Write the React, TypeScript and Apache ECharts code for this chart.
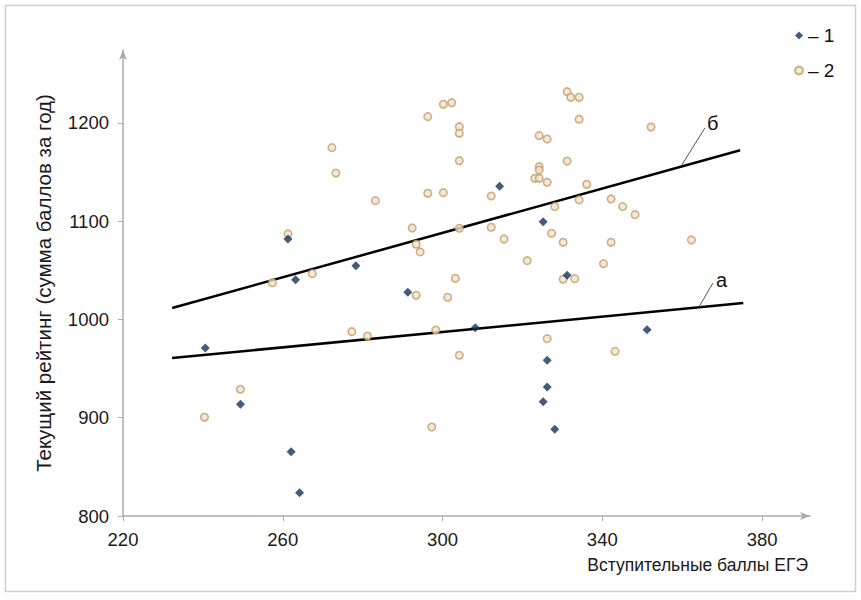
import React, { useEffect, useRef } from 'react';
import * as echarts from 'echarts';

const xTicks = [220, 260, 300, 340, 380];
const yTicks = [800, 900, 1000, 1100, 1200];

const group1Name = '1';
const group2Name = '2';

const group1 = [
  [240.6, 971.0], [249.4, 913.6], [262.1, 865.4], [264.2, 823.7], [261.3, 1081.8],
  [263.2, 1040.4], [278.3, 1054.6], [314.3, 1135.4], [325.2, 1099.4], [331.2, 1044.8],
  [291.3, 1027.6], [308.2, 991.6], [351.2, 989.5], [326.2, 958.4], [326.2, 931.2],
  [325.2, 916.3], [328.1, 888.2],
];

const group2 = [
  [240.4, 900.4], [249.4, 928.9], [277.3, 987.5], [281.2, 983.1], [257.4, 1037.3],
  [272.3, 1174.7], [273.3, 1148.9], [283.2, 1120.8], [261.3, 1086.9], [267.4, 1046.5],
  [296.3, 1206.2], [300.2, 1218.8], [302.3, 1220.4], [304.2, 1196.0], [304.2, 1189.3],
  [304.2, 1161.4], [296.3, 1128.3], [300.2, 1128.9], [312.2, 1125.5], [292.4, 1093.0],
  [293.4, 1076.4], [294.4, 1068.6], [304.2, 1092.7], [312.2, 1093.7], [315.4, 1081.8],
  [327.3, 1087.6], [330.2, 1078.4], [328.1, 1114.7], [334.2, 1121.5], [336.1, 1137.4],
  [342.2, 1122.5], [345.1, 1114.7], [348.2, 1106.5], [342.2, 1078.4], [362.3, 1080.8],
  [340.3, 1056.7], [321.2, 1059.7], [303.2, 1041.8], [330.2, 1040.8], [333.1, 1041.4],
  [324.2, 1186.9], [326.2, 1183.5], [331.2, 1161.1], [324.2, 1155.3], [324.2, 1151.9],
  [323.1, 1143.5], [324.2, 1143.5], [326.2, 1139.5], [334.2, 1203.6], [352.2, 1195.7],
  [331.2, 1231.6], [332.1, 1225.9], [334.2, 1225.9], [293.4, 1024.5], [301.3, 1022.5],
  [298.3, 989.2], [326.2, 980.4], [304.2, 963.5], [343.2, 967.5], [297.3, 890.5],
];

const trendA = [[232.3, 960.7], [375.3, 1016.7]];
const trendB = [[232.3, 1011.6], [374.5, 1172.0]];
const leaderA = [[364.2, 1012.6], [367.7, 1037.0]];
const leaderB = [[359.9, 1157.0], [365.7, 1194.7]];
const trendLabels = ['а', 'б'];

const xName = 'Вступительные баллы ЕГЭ';
const yName = 'Текущий рейтинг (сумма баллов за год)';

const FONT = '"Liberation Sans", Arial, sans-serif';

export default function App() {
  const ref = useRef<HTMLDivElement>(null);

  useEffect(() => {
    if (!ref.current) return;
    const chart = echarts.init(ref.current, undefined, { renderer: 'svg' });

    const leader = (id: string, data: number[][], label: string, offset: number[]) => ({
      id,
      type: 'line',
      data,
      symbol: 'none',
      silent: true,
      lineStyle: { color: '#555', width: 1 },
      endLabel: {
        show: true,
        formatter: label,
        offset,
        color: '#111',
        fontSize: 20,
        fontFamily: FONT,
      },
    });

    chart.setOption({
      animation: false,
      backgroundColor: '#fff',
      textStyle: { fontFamily: FONT },
      grid: { left: 123, right: 51, top: 50, bottom: 84, containLabel: false },
      legend: {
        data: [group1Name, group2Name],
        orient: 'vertical',
        left: 789,
        top: 21,
        itemWidth: 8,
        itemHeight: 8,
        itemGap: 16,
        formatter: (n: string) => '– ' + n,
        textStyle: { fontSize: 19, color: '#111', fontFamily: FONT },
      },
      xAxis: {
        type: 'value',
        min: 220,
        max: 392,
        name: xName,
        nameLocation: 'end',
        nameGap: -2,
        nameTextStyle: {
          align: 'right',
          verticalAlign: 'top',
          padding: [40, 0, 0, 0],
          fontSize: 17.5,
          color: '#1a1a1a',
          fontFamily: FONT,
        },
        splitLine: { show: false },
        axisLine: {
          show: true,
          lineStyle: { color: '#ababab', width: 1.5 },
          symbol: ['none', 'arrow'],
          symbolSize: [6, 10],
        },
        axisTick: { show: true, customValues: xTicks, length: 5, lineStyle: { color: '#ababab' } },
        axisLabel: {
          customValues: xTicks,
          margin: 14,
          fontSize: 18.5,
          color: '#1a1a1a',
          fontFamily: FONT,
          formatter: (v: number) => String(v),
        },
      },
      yAxis: {
        type: 'value',
        min: 800,
        max: 1274,
        name: yName,
        nameLocation: 'middle',
        nameGap: 69,
        nameTextStyle: { fontSize: 20.5, color: '#1a1a1a', fontFamily: FONT },
        splitLine: { show: false },
        axisLine: {
          show: true,
          lineStyle: { color: '#ababab', width: 1.5 },
          symbol: ['none', 'arrow'],
          symbolSize: [6, 10],
        },
        axisTick: { show: true, customValues: yTicks, length: 5, lineStyle: { color: '#ababab' } },
        axisLabel: {
          customValues: yTicks,
          margin: 14,
          fontSize: 18.5,
          color: '#1a1a1a',
          fontFamily: FONT,
          formatter: (v: number) => String(v),
        },
      },
      series: [
        {
          id: 'trendA',
          type: 'line',
          data: trendA,
          symbol: 'none',
          silent: true,
          lineStyle: { color: '#000', width: 2.5 },
          z: 3,
        },
        {
          id: 'trendB',
          type: 'line',
          data: trendB,
          symbol: 'none',
          silent: true,
          lineStyle: { color: '#000', width: 2.5 },
          z: 3,
        },
        leader('leaderA', leaderA, trendLabels[0], [-5, -3]),
        leader('leaderB', leaderB, trendLabels[1], [-6, -5]),
        {
          name: group2Name,
          type: 'scatter',
          data: group2,
          symbol: 'circle',
          symbolSize: 7.5,
          itemStyle: { color: '#f0e4cf', borderColor: '#c29e6a', borderWidth: 1.6 },
          z: 4,
        },
        {
          name: group1Name,
          type: 'scatter',
          data: group1,
          symbol: 'diamond',
          symbolSize: 9,
          itemStyle: { color: '#15325e' },
          z: 5,
        },
      ],
      graphic: [
        {
          type: 'rect',
          silent: true,
          shape: { x: 5.5, y: 5.5, width: 850, height: 586 },
          style: { fill: 'none', stroke: '#cfcfcf', lineWidth: 1.5 },
          z: -1,
        },
      ],
    });

    return () => chart.dispose();
  }, []);

  return (
    <div
      ref={ref}
      style={{ position: 'fixed', left: 0, top: 0, width: 861, height: 600 }}
    />
  );
}
